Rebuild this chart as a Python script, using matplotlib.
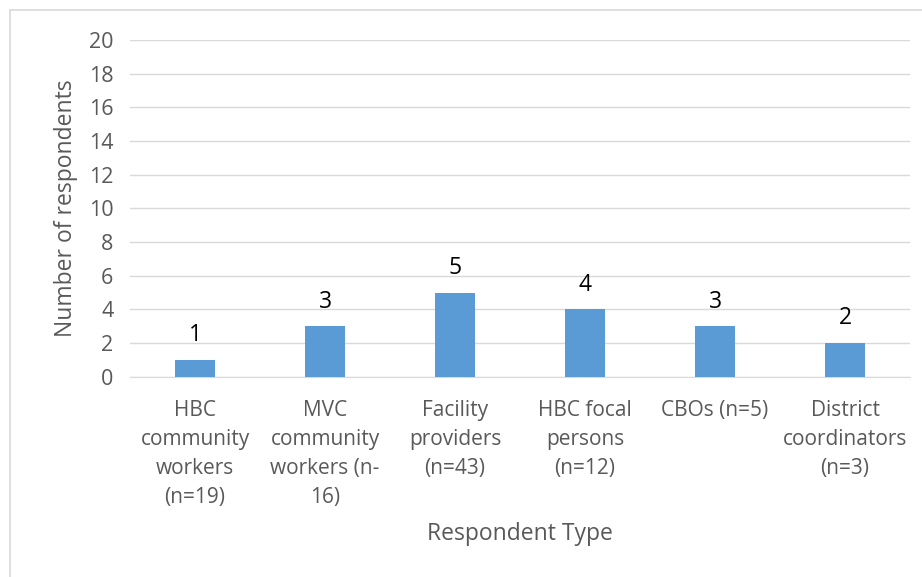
import matplotlib.pyplot as plt
import matplotlib.patches as patches
import numpy as np

plt.rcParams['font.family'] = ['Open Sans', 'DejaVu Sans']

categories = ['HBC\ncommunity\nworkers\n(n=19)',
              'MVC\ncommunity\nworkers (n-\n16)',
              'Facility\nproviders\n(n=43)',
              'HBC focal\npersons\n(n=12)',
              'CBOs (n=5)',
              'District\ncoordinators\n(n=3)']
respondents = [1, 3, 5, 4, 3, 2]

grey = '#595959'

fig = plt.figure(figsize=(9.22, 5.77), dpi=100)
ax = fig.add_axes([0.141, 0.347, 0.846, 0.584])

x = np.arange(len(categories))
ax.bar(x, respondents, width=0.31, color='#5B9BD5', zorder=3)

for xi, v in zip(x, respondents):
    ax.text(xi, v + 0.75, str(v), ha='center', va='bottom', fontsize=16.5, color='black')

ax.set_xlim(-0.5, len(categories) - 0.5)
ax.set_ylim(0, 20)
ax.set_yticks(range(0, 21, 2))
ax.set_xticks(x)
ax.set_xticklabels(categories, fontsize=15, color=grey, linespacing=1.5)
ax.tick_params(axis='y', labelsize=15.5, labelcolor=grey, length=0, pad=12)
ax.tick_params(axis='x', length=0, pad=17)
ax.grid(axis='y', color='#D9D9D9', linewidth=1, zorder=0)
for s in ['top', 'right', 'left']:
    ax.spines[s].set_visible(False)
ax.spines['bottom'].set_color('#D9D9D9')

ax.set_ylabel('Number of respondents', fontsize=16.5, color=grey, labelpad=8)
ax.set_xlabel('Respondent Type', fontsize=16.5, color=grey, labelpad=10)

# light frame, only its left and top edges fall inside the canvas
fig.patches.append(patches.Rectangle((10 / 922, -0.1), 1.2, 1.1 - 10 / 577,
                                     transform=fig.transFigure, fill=False,
                                     edgecolor='#D9D9D9', linewidth=1.2))

fig.savefig('out.png', dpi=100)
